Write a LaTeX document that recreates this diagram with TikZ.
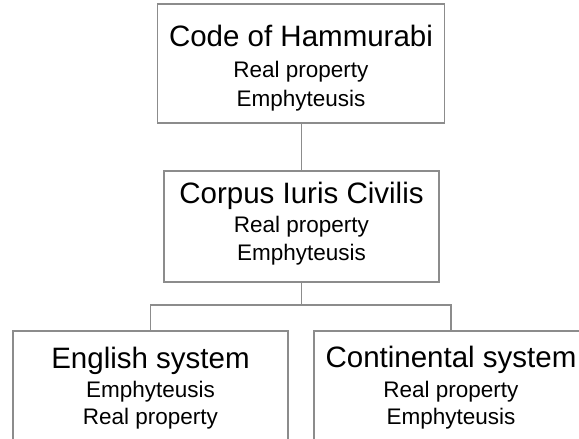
\documentclass[tikz,border=0pt]{standalone}
\usepackage{fontspec}
\setmainfont{Liberation Sans}
\begin{document}
\begin{tikzpicture}[x=1pt,y=1pt,
  box/.style={draw=linegray,line width=1.7pt,rectangle,inner sep=0pt,fill=white},
  link/.style={draw=linegray,line width=1.7pt},
  headtext/.style={anchor=base,inner sep=0pt,font=\fontsize{29.5}{34}\selectfont},
  subtext/.style={anchor=base,inner sep=0pt,font=\fontsize{22.5}{26}\selectfont}]
\definecolor{linegray}{HTML}{8C8C8C}
\useasboundingbox (0,0) rectangle (579,-439);
\clip (0,0) rectangle (579,-439);

% boxes
\node[box,minimum width=287pt,minimum height=119pt] (hammurabi) at (301,-63.5) {};
\node[box,minimum width=275pt,minimum height=111pt] (corpus) at (301.5,-226.5) {};
\node[box,minimum width=275pt,minimum height=118pt] (english) at (150.5,-390) {};
\node[box,minimum width=274pt,minimum height=118pt] (continental) at (451,-390) {};

% connectors
\draw[link] (corpus.north |- hammurabi.south) -- (corpus.north);
\coordinate (fork) at (301.5,-305);
\draw[link] (corpus.south) -- (fork);
\draw[link] (fork) -| (english.north);
\draw[link] (fork) -| (continental.north);

% texts
\node[headtext] (t1) at (301,-46.5) {Code of Hammurabi};
\node[subtext] (t1a) at (301,-77.5) {Real property};
\node[subtext] (t1b) at (301,-106) {Emphyteusis};

\node[headtext] (t2) at (301.5,-203.5) {Corpus Iuris Civilis};
\node[subtext] (t2a) at (301.5,-232) {Real property};
\node[subtext] (t2b) at (301.5,-260) {Emphyteusis};

\node[headtext] (t3) at (150.5,-368.5) {English system};
\node[subtext] (t3a) at (150.5,-397.5) {Emphyteusis};
\node[subtext] (t3b) at (150.5,-424) {Real property};

\node[headtext] (t4) at (451,-367) {Continental system};
\node[subtext] (t4a) at (451,-397.5) {Real property};
\node[subtext] (t4b) at (451,-424) {Emphyteusis};
\end{tikzpicture}
\end{document}
